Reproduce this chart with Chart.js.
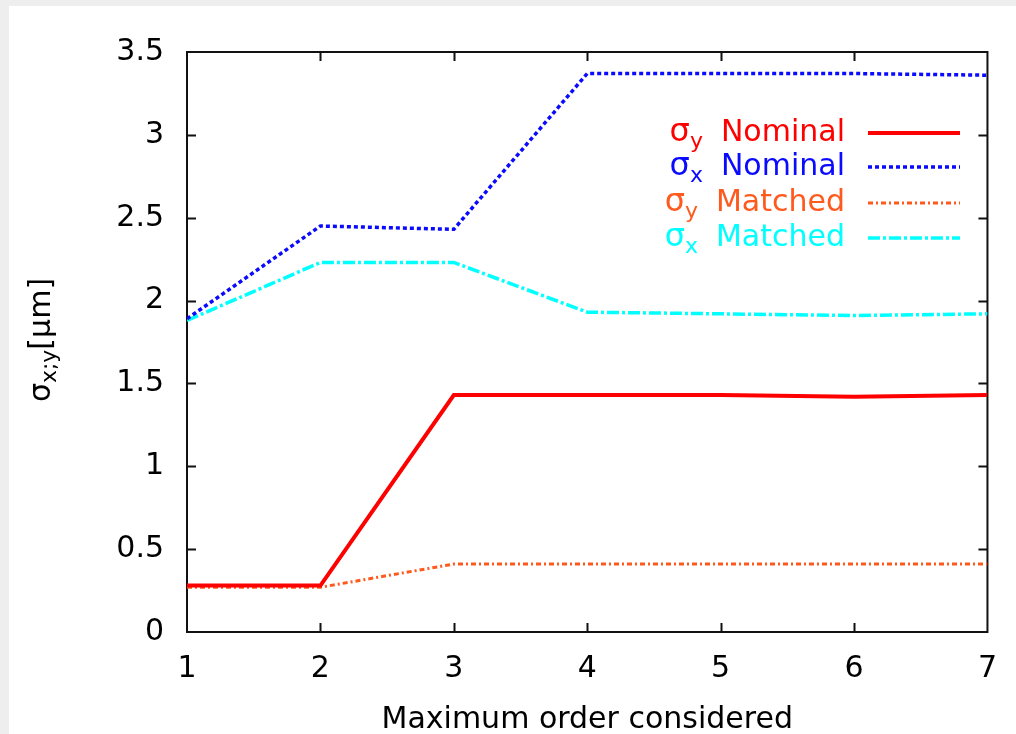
<!DOCTYPE html>
<html>
<head>
<meta charset="utf-8">
<script src="https://cdn.jsdelivr.net/npm/chart.js@4.4.0/dist/chart.umd.min.js"></script>
<style>
  html, body { margin: 0; padding: 0; background: #eeeeee; }
  #wrap { position: absolute; left: 9px; top: 6px; width: 1007px; height: 728px; background: #fff; }
</style>
</head>
<body>
<div id="wrap"><canvas id="chart" width="1007" height="728"></canvas></div>
<script>
const orders = [1, 2, 3, 4, 5, 6, 7]
const sigmaYNominal = [0.28, 0.28, 1.43, 1.43, 1.43, 1.42, 1.43]
const sigmaXNominal = [1.89, 2.45, 2.43, 3.37, 3.37, 3.37, 3.36]
const sigmaYMatched = [0.27, 0.27, 0.41, 0.41, 0.41, 0.41, 0.41]
const sigmaXMatched = [1.88, 2.23, 2.23, 1.93, 1.92, 1.91, 1.92]

const FONT = '"DejaVu Sans", sans-serif'

const series = [
  { sub: 'y', label: 'Nominal', data: sigmaYNominal, color: '#ff0000', width: 4, dash: [] },
  { sub: 'x', label: 'Nominal', data: sigmaXNominal, color: '#0a0aff', width: 3.5, dash: [4, 3] },
  { sub: 'y', label: 'Matched', data: sigmaYMatched, color: '#ff5a1e', width: 3, dash: [5, 3, 2, 3] },
  { sub: 'x', label: 'Matched', data: sigmaXMatched, color: '#00ffff', width: 3.5, dash: [12, 3, 3, 3] },
]

// frame with inward ticks, gnuplot style
const framePlugin = {
  id: 'frame',
  beforeDatasetsDraw(chart) {
    const { ctx, chartArea: a, scales } = chart
    ctx.save()
    ctx.strokeStyle = '#111'
    ctx.lineWidth = 2
    const t = 9
    ctx.beginPath()
    for (let v = 2; v <= 6; v++) {
      const x = Math.round(scales.x.getPixelForValue(v)) + 0.5
      ctx.moveTo(x, a.bottom); ctx.lineTo(x, a.bottom - t)
      ctx.moveTo(x, a.top); ctx.lineTo(x, a.top + t)
    }
    for (let v = 0.5; v <= 3; v += 0.5) {
      const y = Math.round(scales.y.getPixelForValue(v)) + 0.5
      ctx.moveTo(a.left, y); ctx.lineTo(a.left + t, y)
      ctx.moveTo(a.right, y); ctx.lineTo(a.right - t, y)
    }
    ctx.stroke()
    ctx.strokeRect(a.left, a.top, a.right - a.left, a.bottom - a.top)
    ctx.restore()
  },
  afterDraw(chart) {
    const { ctx } = chart
    ctx.save()
    // legend
    const rows = [127, 161, 197, 232]
    series.forEach((s, i) => {
      const y = rows[i]
      ctx.fillStyle = s.color
      ctx.textBaseline = 'middle'
      ctx.font = '30px ' + FONT
      const lw = ctx.measureText(s.label).width
      const lx = 836 - lw
      ctx.textAlign = 'left'
      ctx.fillText(s.label, lx, y)
      ctx.font = '22px ' + FONT
      const sw = ctx.measureText(s.sub).width
      const sx = lx - 18 - sw
      ctx.fillText(s.sub, sx, y + 9)
      ctx.font = '32px ' + FONT
      const gw = ctx.measureText('σ').width
      ctx.fillText('σ', sx - gw, y)
      ctx.strokeStyle = s.color
      ctx.lineWidth = s.width
      ctx.setLineDash(s.dash)
      ctx.beginPath()
      ctx.moveTo(859, y)
      ctx.lineTo(951, y)
      ctx.stroke()
      ctx.setLineDash([])
    })
    // y axis title
    ctx.translate(33, 334)
    ctx.rotate(-Math.PI / 2)
    ctx.fillStyle = '#000'
    ctx.textBaseline = 'middle'
    ctx.textAlign = 'left'
    ctx.font = '30px ' + FONT
    const w1 = ctx.measureText('σ').width
    const w3 = ctx.measureText('[μm]').width
    ctx.font = '22px ' + FONT
    const w2 = ctx.measureText('x;y').width
    let x = -(w1 + w2 + w3) / 2
    ctx.font = '30px ' + FONT
    ctx.fillText('σ', x, 0)
    x += w1
    ctx.font = '22px ' + FONT
    ctx.fillText('x;y', x, 8)
    x += w2
    ctx.font = '30px ' + FONT
    ctx.fillText('[μm]', x, 0)
    ctx.restore()
  }
}

new Chart(document.getElementById('chart'), {
  type: 'line',
  data: {
    datasets: series.map(s => ({
      label: s.label,
      data: orders.map((o, i) => ({ x: o, y: s.data[i] })),
      borderColor: s.color,
      backgroundColor: s.color,
      borderWidth: s.width,
      borderDash: s.dash,
      pointRadius: 0,
      tension: 0,
      fill: false,
    })),
  },
  options: {
    responsive: false,
    animation: false,
    layout: { padding: { left: 0, top: 46, right: 24, bottom: 0 } },
    plugins: { legend: { display: false }, tooltip: { enabled: false } },
    scales: {
      x: {
        type: 'linear',
        min: 1,
        max: 7,
        grid: { display: false, drawTicks: false },
        border: { display: false },
        ticks: { stepSize: 1, color: '#000', padding: 19, font: { family: FONT, size: 30 } },
        title: { display: true, text: 'Maximum order considered', color: '#000', padding: { top: 0, bottom: -4 }, font: { family: FONT, size: 30 } },
        afterFit(s) { s.height = 102 },
      },
      y: {
        min: 0,
        max: 3.5,
        grid: { display: false, drawTicks: false },
        border: { display: false },
        ticks: {
          stepSize: 0.5, color: '#000', padding: 23, font: { family: FONT, size: 30 },
          callback: v => String(v),
        },
        afterFit(s) { s.width = 178 },
      },
    },
  },
  plugins: [framePlugin],
})
</script>
</body>
</html>
